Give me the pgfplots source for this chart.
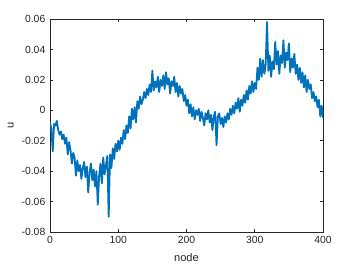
\documentclass[border=0pt]{standalone}
\usepackage{pgfplots}
\pgfplotsset{compat=1.18}
\usepackage{fontspec}
\setmainfont{Liberation Sans}
\definecolor{mblue}{rgb}{0,0.447,0.741}
\definecolor{axgray}{rgb}{0.15,0.15,0.15}
\begin{document}
\begin{tikzpicture}
\useasboundingbox (-37.5pt,-27pt) rectangle (230.25pt,174pt);
\begin{axis}[
  at={(0,0)}, anchor=south west,
  scale only axis, width=204.75pt, height=159.75pt,
  xmin=0, xmax=400, ymin=-0.08, ymax=0.06,
  xtick={0,100,200,300,400},
  ytick={-0.08,-0.06,-0.04,-0.02,0,0.02,0.04,0.06},
  tick align=inside, tick pos=both,
  major tick length=2.5pt,
  axis line style={axgray, line width=0.4pt},
  every tick/.style={axgray, line width=0.4pt},
  tick label style={font=\fontsize{7.8}{9}\selectfont, text=axgray},
  label style={font=\fontsize{8.3}{10}\selectfont, text=axgray},
  /pgf/number format/assume math mode=true,
  yticklabel style={/pgf/number format/fixed, /pgf/number format/precision=2},
  scaled y ticks=false,
  xlabel={node}, ylabel={u},
  xlabel style={yshift=0pt},
  ylabel style={yshift=-1pt},
]
\addplot[mblue, line width=1.35pt, line join=round] table {
x y
0 -0.008
2 -0.012
4 -0.027
6 -0.009
8 -0.010
10 -0.007
12 -0.013
14 -0.016
16 -0.014
18 -0.019
20 -0.016
22 -0.022
24 -0.018
26 -0.029
28 -0.021
30 -0.026
32 -0.035
34 -0.028
36 -0.031
38 -0.043
40 -0.033
42 -0.040
44 -0.036
46 -0.045
48 -0.038
50 -0.034
52 -0.044
54 -0.037
56 -0.054
58 -0.041
60 -0.035
62 -0.046
64 -0.039
66 -0.050
68 -0.040
70 -0.062
72 -0.043
74 -0.035
76 -0.048
78 -0.031
80 -0.042
82 -0.036
84 -0.030
86 -0.070
88 -0.029
90 -0.038
92 -0.025
94 -0.032
96 -0.022
98 -0.027
100 -0.020
102 -0.026
104 -0.018
106 -0.022
108 -0.013
110 -0.019
112 -0.010
114 -0.015
116 -0.004
118 -0.012
120 0.001
122 -0.006
124 0.002
126 -0.008
128 0.006
130 0.001
132 0.009
134 0.004
136 0.007
138 0.012
140 0.008
142 0.014
144 0.010
146 0.017
148 0.012
150 0.026
152 0.013
154 0.019
156 0.015
158 0.022
160 0.012
162 0.020
164 0.016
166 0.023
168 0.014
170 0.025
172 0.017
174 0.021
176 0.011
178 0.019
180 0.016
182 0.022
184 0.012
186 0.018
188 0.009
190 0.016
192 0.011
194 0.014
196 0.006
198 0.010
200 0.003
202 0.007
204 -0.002
206 0.004
208 -0.004
210 0.002
212 -0.006
214 0.000
216 -0.003
218 0.001
220 -0.007
222 -0.001
224 -0.005
226 -0.010
228 -0.002
230 -0.006
232 0.000
234 -0.008
236 -0.003
238 -0.013
240 -0.004
242 -0.001
244 -0.023
246 -0.004
248 -0.002
250 -0.009
252 -0.005
254 -0.011
256 -0.004
258 -0.008
260 -0.002
262 -0.006
264 0.001
266 -0.003
268 0.003
270 -0.002
272 0.005
274 0.001
276 0.008
278 -0.001
280 0.007
282 0.003
284 0.010
286 0.005
288 0.013
290 0.007
292 0.016
294 0.011
296 0.019
298 0.012
300 0.018
302 0.014
304 0.028
306 0.020
308 0.034
310 0.022
312 0.033
314 0.024
316 0.030
318 0.058
320 0.026
322 0.036
324 0.022
326 0.032
328 0.027
330 0.045
332 0.030
334 0.039
336 0.024
338 0.036
340 0.031
342 0.046
344 0.028
346 0.038
348 0.033
350 0.044
352 0.025
354 0.034
356 0.028
358 0.037
360 0.024
362 0.030
364 0.020
366 0.028
368 0.018
370 0.025
372 0.015
374 0.023
376 0.012
378 0.020
380 0.014
382 0.017
384 0.008
386 0.012
388 0.006
390 0.009
392 0.002
394 0.007
396 -0.004
398 0.003
400 -0.005
};
\end{axis}
\end{tikzpicture}
\end{document}
